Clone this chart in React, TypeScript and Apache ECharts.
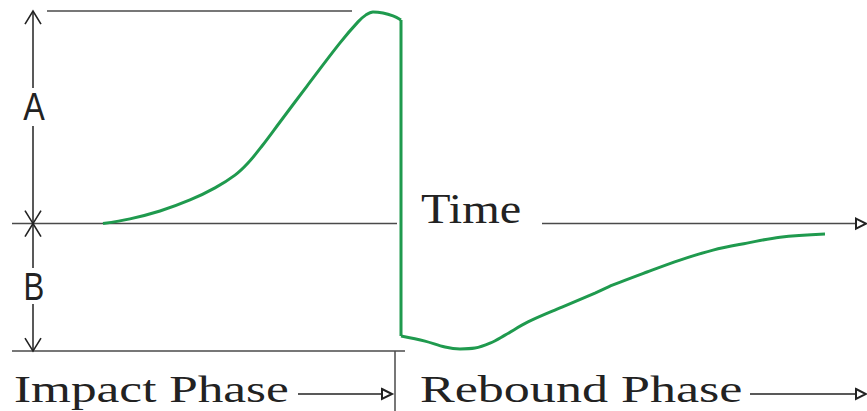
import React, { useEffect, useRef } from "react";
import * as echarts from "echarts";

// Impact phase (time, force) — force rises from 0 to peak A
const impactTime = [10.3, 13.0, 16.0, 19.0, 21.5, 23.5, 24.8, 26.2, 28.0, 30.7, 34.0, 35.8, 36.6, 37.3, 38.3, 39.3, 40.1];
const impactForce = [0, 2.2, 5.9, 11.1, 16.8, 22.8, 28.5, 36.5, 47.8, 64.7, 85.0, 94.9, 98.2, 99.6, 99.1, 97.7, 95.8];

// Rebound phase (time, force) — force goes negative to B then recovers
const reboundTime = [40.1, 42.5, 44.5, 46.0, 47.5, 49.0, 50.5, 52.8, 56.2, 59.5, 61.3, 64.7, 68.0, 71.3, 74.7, 78.0, 82.5];
const reboundForce = [-52.9, -55.3, -58.1, -59.0, -58.6, -56.3, -52.5, -46.3, -39.3, -32.7, -28.9, -22.8, -17.2, -12.5, -9.2, -6.4, -4.9];

// Reference levels
const levelA = 100;
const levelB = -60;

// Labels
const labelA = "A";
const labelB = "B";
const labelTime = "Time";
const labelImpact = "Impact Phase";
const labelRebound = "Rebound Phase";

const GREEN = "#1f9a4e";
const GRAY = "#4a4a4a";
const DARK = "#222222";

export default function App() {
  const ref = useRef<HTMLDivElement>(null);

  useEffect(() => {
    if (!ref.current) return;
    const chart = echarts.init(ref.current, undefined, { renderer: "svg" });

    const impact = impactTime.map((t, i) => [t, impactForce[i]]);
    const rebound = reboundTime.map((t, i) => [t, reboundForce[i]]);
    const drop = [impact[impact.length - 1], rebound[0]];

    const lineStyle = { color: GREEN, width: 3 };
    chart.setOption({
      animation: false,
      backgroundColor: "#ffffff",
      grid: { left: 0, right: 0, top: 0, bottom: 0 },
      xAxis: { type: "value", min: 0, max: 86.7, show: false },
      yAxis: { type: "value", min: -88.2, max: 105.2, show: false },
      series: [
        { type: "line", data: impact, smooth: 0.35, showSymbol: false, lineStyle, silent: true },
        { type: "line", data: drop, smooth: false, showSymbol: false, lineStyle, silent: true },
        { type: "line", data: rebound, smooth: 0.35, showSymbol: false, lineStyle, silent: true },
      ],
    });

    const py = (v: number) => (chart.convertToPixel({ gridIndex: 0 }, [0, v]) as number[])[1];
    const y0 = py(0);
    const yA = py(levelA);
    const yB = py(levelB);

    const seg = (x1: number, y1: number, x2: number, y2: number, color = GRAY, w = 1.5) => ({
      type: "line",
      shape: { x1, y1, x2, y2 },
      style: { stroke: color, lineWidth: w },
      silent: true,
    });
    const vHead = (x: number, y: number, dir: number) => ({
      type: "polyline",
      shape: { points: [[x - 8, y + dir * 13], [x, y], [x + 8, y + dir * 13]] },
      style: { stroke: DARK, lineWidth: 1.6, fill: null },
      silent: true,
    });
    const triHead = (xTip: number, y: number) => ({
      type: "polygon",
      shape: { points: [[xTip - 10, y - 5], [xTip, y], [xTip - 10, y + 5]] },
      style: { stroke: DARK, lineWidth: 2, fill: "#ffffff" },
      silent: true,
    });
    const serif = "Liberation Serif";
    const sans = "Liberation Sans";
    const txt = (text: string, x: number, y: number, size: number, scaleX: number, family: string, align = "left") => ({
      type: "text",
      x,
      y,
      scaleX,
      style: { text, fill: DARK, fontSize: size, fontFamily: family, align, verticalAlign: "middle" },
      silent: true,
    });

    const ax = 33;
    chart.setOption({
      graphic: [
        // A / B reference lines
        seg(47, yA, 352, yA),
        seg(12, y0, 397, y0),
        seg(542, y0, 858, y0),
        triHead(866, y0),
        seg(12, yB, 405, yB),
        seg(395, yB, 395, 411),
        // vertical dimension arrows
        seg(ax, yA, ax, 88, DARK),
        seg(ax, 126, ax, y0, DARK),
        seg(ax, y0, ax, 268, DARK),
        seg(ax, 304, ax, yB, DARK),
        vHead(ax, yA, 1),
        vHead(ax, y0, -1),
        vHead(ax, y0, 1),
        vHead(ax, yB, -1),
        txt(labelA, 34, 107, 38, 0.85, sans, "center"),
        txt(labelB, 34, 287, 38, 0.82, sans, "center"),
        // Time label
        txt(labelTime, 421, 209, 42, 1.15, serif),
        // Phase labels with arrows
        txt(labelImpact, 14, 389, 38, 1.35, serif),
        seg(298, 394, 383, 394, DARK),
        triHead(392, 394),
        txt(labelRebound, 420, 389, 38, 1.37, serif),
        seg(750, 394, 857, 394, DARK),
        triHead(866, 394),
      ],
    });

    return () => chart.dispose();
  }, []);

  return (
    <div
      ref={ref}
      style={{ position: "absolute", left: 0, top: 0, width: 867, height: 411, background: "#fff" }}
    />
  );
}
